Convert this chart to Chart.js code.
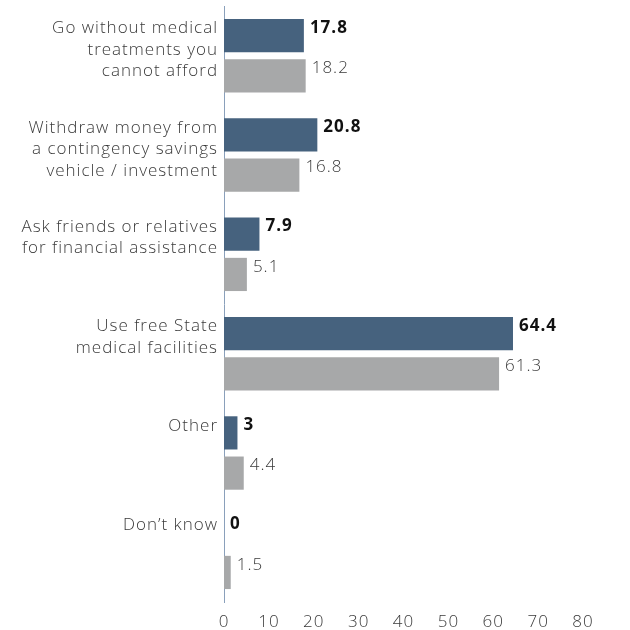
<!DOCTYPE html>
<html>
<head>
<meta charset="utf-8">
<script src="https://cdn.jsdelivr.net/npm/chart.js@4.4.1/dist/chart.umd.min.js"></script>
<style>
  html, body { margin: 0; padding: 0; background: #fff; }
  #wrap { width: 630px; height: 630px; position: relative; }
</style>
</head>
<body>
<div id="wrap"><canvas id="chart"></canvas></div>
<script>
// Data
const categories = [
  ['Go without medical', 'treatments you', 'cannot afford'],
  ['Withdraw money from', 'a contingency savings', 'vehicle / investment'],
  ['Ask friends or relatives', 'for financial assistance'],
  ['Use free State', 'medical facilities'],
  ['Other'],
  ['Don\u2019t know']
];
const seriesA = [17.8, 20.8, 7.9, 64.4, 3, 0];
const seriesB = [18.2, 16.8, 5.1, 61.3, 4.4, 1.5];
const xTicks = [0, 10, 20, 30, 40, 50, 60, 70, 80];

const FONT = '"Open Sans", Lato, sans-serif';
const DARK = '#46627e';
const GREY = '#a7a8a9';
const TEXT = '#3a3a3a';
const SPACING = '1px';

// wider letter spacing to get closer to the original geometric face
const spacingPlugin = {
  id: 'spacing',
  beforeDraw(chart) { chart.ctx.letterSpacing = SPACING; }
};

// Draws the category labels (top-aligned with the dark bar) and value labels
const labelPlugin = {
  id: 'labels',
  afterDatasetsDraw(chart) {
    const ctx = chart.ctx;
    const left = chart.chartArea.left;
    const metaA = chart.getDatasetMeta(0);
    ctx.save();
    ctx.letterSpacing = SPACING;
    ctx.textBaseline = 'middle';

    // category labels
    ctx.textAlign = 'right';
    ctx.fillStyle = TEXT;
    ctx.font = '300 17px ' + FONT;
    metaA.data.forEach((bar, i) => {
      const top = bar.y - bar.height / 2 + 9.5;
      categories[i].forEach((line, j) => {
        ctx.fillText(line, left - 6, top + j * 21.5);
      });
    });

    // value labels
    ctx.textAlign = 'left';
    chart.data.datasets.forEach((ds, d) => {
      const meta = chart.getDatasetMeta(d);
      ctx.font = d === 0 ? 'bold 17px ' + FONT : '300 17px ' + FONT;
      ctx.fillStyle = d === 0 ? '#111' : TEXT;
      meta.data.forEach((bar, i) => {
        const y = bar.y - bar.height / 2 + 9;
        ctx.fillText(String(ds.data[i]), bar.x + 6, y);
      });
    });
    ctx.restore();
  }
};

new Chart(document.getElementById('chart'), {
  type: 'bar',
  data: {
    labels: categories.map(c => c.join(' ')),
    datasets: [
      { label: 'A', data: seriesA, backgroundColor: DARK, categoryPercentage: 0.81, barPercentage: 0.825 },
      { label: 'B', data: seriesB, backgroundColor: GREY, categoryPercentage: 0.81, barPercentage: 0.825 }
    ]
  },
  options: {
    indexAxis: 'y',
    responsive: true,
    maintainAspectRatio: false,
    animation: false,
    layout: { padding: { left: 224, right: 47, top: 6, bottom: 0 } },
    scales: {
      x: {
        min: 0,
        max: 80,
        afterBuildTicks: axis => { axis.ticks = xTicks.map(v => ({ value: v })); },
        afterFit: axis => { axis.height = 28; },
        grid: { display: false, drawTicks: false },
        border: { display: false },
        ticks: { color: TEXT, padding: 10, font: { family: FONT, size: 17, weight: 300 } }
      },
      y: {
        afterFit: axis => { axis.width = 0; },
        grid: { display: false, drawTicks: false },
        border: { display: true, color: '#8aa0bb', width: 1 },
        ticks: { display: false }
      }
    },
    plugins: {
      legend: { display: false },
      tooltip: { enabled: false }
    }
  },
  plugins: [spacingPlugin, labelPlugin]
});
</script>
</body>
</html>
